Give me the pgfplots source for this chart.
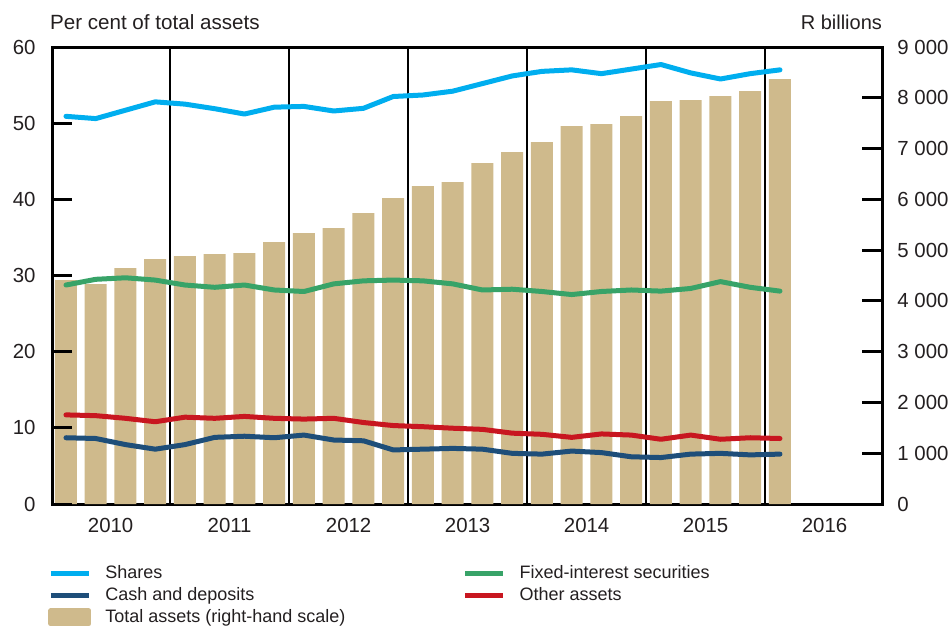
\documentclass[border=0pt]{standalone}
\usepackage{fontspec}
\setmainfont{Liberation Sans}
\usepackage{pgfplots}
\usepackage{pgfplotstable}
\pgfplotsset{compat=1.18}

\definecolor{shares}{RGB}{0,174,239}
\definecolor{cash}{RGB}{30,78,121}
\definecolor{fixed}{RGB}{56,163,104}
\definecolor{other}{RGB}{200,22,32}
\definecolor{total}{RGB}{207,186,140}
\definecolor{ink}{RGB}{35,31,32}

% quarters 2010Q1 .. 2016Q1
\pgfplotstableread{
q  total shares fixed cash other
0  4410  50.9  28.75 8.7  11.7
1  4330  50.6  29.5  8.6  11.6
2  4646  51.7  29.7  7.8  11.25
3  4823  52.8  29.4  7.2  10.8
4  4882  52.5  28.75 7.8  11.4
5  4921  51.9  28.45 8.75 11.25
6  4941  51.2  28.75 8.9  11.5
7  5157  52.1  28.1  8.7  11.25
8  5335  52.2  27.9  9.05 11.15
9  5433  51.6  28.9  8.4  11.25
10 5728  51.95 29.3  8.3  10.7
11 6024  53.5  29.4  7.1  10.3
12 6260  53.7  29.3  7.2  10.15
13 6339  54.2  28.9  7.3  9.95
14 6713  55.2  28.1  7.2  9.8
15 6929  56.2  28.2  6.65 9.3
16 7126  56.8  27.9  6.55 9.15
17 7441  57.0  27.5  6.95 8.75
18 7480  56.5  27.9  6.75 9.2
19 7638  57.1  28.1  6.2  9.05
20 7933  57.7  27.95 6.1  8.5
21 7953  56.6  28.3  6.55 9.05
22 8031  55.8  29.2  6.65 8.5
23 8130  56.5  28.45 6.45 8.7
24 8366  57.0  27.95 6.55 8.6
}\datatable

\pgfplotsset{
  base/.style={
    at={(0,0)}, anchor=south west,
    width=415pt, height=228.5pt, scale only axis,
    xmin=-0.47, xmax=27.43,
    axis line style={line width=1.5pt, black},
    tick align=inside,
    major tick length=10pt,
    y tick style={line width=1.5pt, black},
    tick label style={font=\fontsize{10.2}{12}\selectfont, text=ink},
    /pgf/number format/assume math mode=true,
  },
}

\begin{document}
\begin{tikzpicture}
\useasboundingbox (-26pt,-62pt) rectangle (450pt,252pt);

% bars, right-hand scale
\begin{axis}[base,
  ymin=0, ymax=9000,
  ytick={0,1000,...,9000},
  ytick pos=right, yticklabel pos=right,
  yticklabel style={/pgf/number format/1000 sep={\ }, xshift=4.2pt},
  xtick={1.5,5.5,9.5,13.5,17.5,21.5,25.5},
  xticklabels={2010,2011,2012,2013,2014,2015,2016},
  x tick style={draw=none},
  xticklabel style={yshift=-3.6pt},
  extra x ticks={3.5,7.5,11.5,15.5,19.5,23.5},
  extra x tick labels={},
  extra x tick style={grid=major, major grid style={black, line width=0.7pt}, major tick length=0pt},
  ylabel={R billions},
  every axis y label/.style={at={(rel axis cs:1,1)}, anchor=base east,
    xshift=3.5pt, yshift=9pt, font=\fontsize{10}{12}\selectfont, text=ink},
]
\addplot[ybar, bar width=0.74, bar shift=0pt, fill=total, draw=none]
  table[x=q, y=total] {\datatable};
\end{axis}

% lines, left-hand scale
\begin{axis}[base,
  ymin=0, ymax=60,
  axis x line=none, axis y line*=left,
  ytick={0,10,...,60},
  yticklabel style={xshift=-4.7pt},
  ylabel={Per cent of total assets},
  every axis y label/.style={at={(rel axis cs:0,1)}, anchor=base west,
    xshift=-4.5pt, yshift=9pt, font=\fontsize{10.3}{12}\selectfont, text=ink},
  every axis plot/.append style={line width=2.5pt, line join=round, line cap=round},
  legend image code/.code={\draw[#1, line cap=butt] (0pt,0pt) -- (19pt,0pt);},
  legend columns=2,
  legend cell align=left,
  legend style={at={(0,0)}, anchor=north west, xshift=-2pt, yshift=-29pt,
    draw=none, fill=none, inner sep=0pt,
    font=\fontsize{9}{11}\selectfont, text=ink,
    nodes={inner sep=1pt, text height=7pt, text depth=2pt},
    /tikz/every odd column/.style={column sep=6pt},
    /tikz/column 2/.style={column sep=57.5pt}},
]
\addplot[shares] table[x=q, y=shares] {\datatable};
\addlegendentry{Shares}
\addplot[fixed] table[x=q, y=fixed] {\datatable};
\addlegendentry{Fixed-interest securities}
\addplot[cash] table[x=q, y=cash] {\datatable};
\addlegendentry{Cash and deposits}
\addplot[other] table[x=q, y=other] {\datatable};
\addlegendentry{Other assets}
\addlegendimage{legend image code/.code={\fill[total] (0pt,-3.25pt) rectangle (19pt,3.25pt);}}
\addlegendentry{Total assets (right-hand scale)}
\end{axis}
\end{tikzpicture}
\end{document}
